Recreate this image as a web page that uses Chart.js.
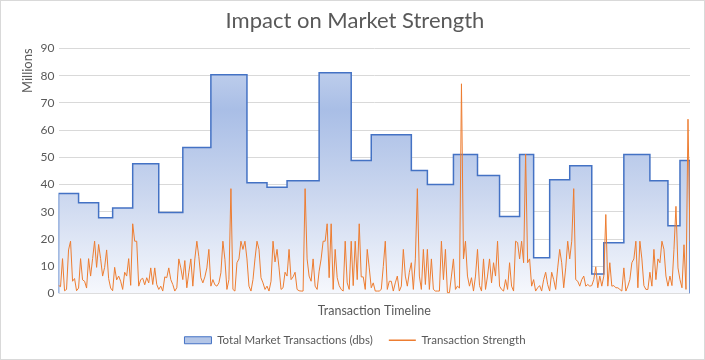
<!DOCTYPE html>
<html>
<head>
<meta charset="utf-8">
<script src="https://cdn.jsdelivr.net/npm/chart.js"></script>
<style>
  body { margin: 0; background: #fff; }
  #wrap { width: 705px; height: 360px; }
</style>
</head>
<body>
<div id="wrap"><canvas id="chart" width="705" height="360"></canvas></div>
<script>
// Step series: slot where each level starts, and its value (millions)
const stepStarts = [0, 10, 20, 27, 37, 50, 62, 76, 94, 104, 114, 130, 146, 156, 176, 184, 197,
  209, 220, 230, 237, 245, 255, 266, 272, 282, 295, 304, 310];
const stepValues = [36.7, 33.3, 27.8, 31.4, 47.6, 29.7, 53.6, 80.3, 40.7, 39.0, 41.4, 81.1, 48.8,
  58.3, 45.2, 40.0, 51.0, 43.3, 28.3, 51.0, 13.1, 41.8, 46.9, 7.2, 18.6, 51.0, 41.4, 24.9, 48.8];
const lastSlot = 315;

// Transaction strength, one value per timeline slot (millions)
const strength = [
  3, 2.5, 12.8, 1, 1.5, 16, 19.2, 4.5, 5.5, 1, 2, 12.8, 5, 4.5, 2, 12.8, 6.4, 12.8, 19.2, 9.6,
  18, 12.8, 6.4, 9.6, 16, 5.5, 2, 1, 9.6, 5, 6.4, 4.5, 1.5, 7.8, 6.4, 12.8, 3, 25.6, 19.2,
  19.2, 2.7, 5.1, 5.6, 3.2, 5.8, 3.9, 9.4, 3.3, 9.4, 3.3, 1.5, 2.7, 0.9, 6.1, 5.8, 9.4, 5.1, 3.3, 0.9,
  2.1, 12.7, 9.4, 5.1, 12.1, 2.1, 7.8, 12.7, 2.7, 12.7, 19.2, 13.5, 5.8, 3.9, 6.1, 9.4, 16.2, 2.7, 5.1, 3.2,
  2.7, 3.9, 7.6, 19.2, 12.5, 1.5, 5.1, 38.5, 1.5, 0.9, 11.3, 12.7, 19.2, 16.2, 19.2, 12.7, 2.7, 0.9, 5.1, 12.7,
  19.2, 16.2, 5.8, 3.9, 1.5, 2.7, 0.9, 4.5, 19.2, 11.6, 16.2, 9.4, 1.5, 2.1, 7.8, 6.4, 16.2, 5.1, 6.1, 7.8,
  1.5, 1.0, 0.9, 0.9, 38.5, 12.7, 6.4, 4.5, 12.7, 2.7, 1.5, 8.2, 12.7, 19.2, 19.2, 25.6, 5.8, 25.6, 1.5, 16.2,
  5.8, 2.9, 1.5, 0.9, 19.2, 3.9, 1.5, 19.2, 2.9, 19.2, 5.1, 25.6, 6.1, 6.1, 1.5, 16.2, 9.4, 2.1, 3.9, 0.9,
  0.9, 0.9, 1.5, 9.9, 19.2, 1.5, 4.5, 4.5, 0.9, 3.9, 6.4, 0.9, 2.7, 16.2, 6.4, 2.7, 7.8, 11.3, 1.5, 12.7,
  38.5, 6.4, 1.5, 16.2, 3.3, 16.2, 1.5, 12.7, 1.5, 0.9, 0.9, 0.9, 19.2, 5.1, 16.2, 0.3, 0.3, 6.4, 12.7, 1.5,
  2.7, 2.0, 77, 12.7, 19.2, 6.4, 2.7, 5.8, 0.9, 6.4, 16.2, 2.9, 0.9, 12.7, 1.5, 6.4, 12.7, 3.9, 11.3, 6.4,
  19.2, 2.7, 1.5, 0.9, 5.1, 1.5, 11.3, 2.7, 0.9, 19.2, 18.7, 12.7, 19.2, 11.3, 51.2, 11.3, 12.7, 2.7, 5.1, 0.9,
  2.1, 2.9, 0.9, 5.1, 7.8, 3.3, 0.9, 7.8, 5.1, 1.5, 9.4, 16.2, 11.3, 2.1, 9.4, 19.2, 12.7, 19.2, 38.5, 5.1,
  4.5, 2.7, 5.1, 6.4, 2.7, 3.3, 2.7, 2.9, 5.1, 9.8, 2.1, 6.4, 2.7, 6.4, 29, 2.7, 11.3, 2.7, 2.9, 2.1,
  2.1, 1.5, 0.9, 9.4, 0.9, 2.7, 5.1, 11.3, 12.7, 19.2, 2.1, 19.2, 12.7, 2.9, 1.5, 1.5, 7.8, 2.7, 16.2, 5.1,
  12.7, 11.3, 19.2, 16.2, 6.4, 2.7, 6.4, 2.9, 16.2, 32, 9.4, 5.1, 2.1, 17.9, 1.5, 64, 19.2
];

const yTicks = [0, 10, 20, 30, 40, 50, 60, 70, 80, 90];

// build the step outline, closed down to the axis at both ends
const stepPoints = [{ x: 0, y: 0 }];
stepStarts.forEach((s, i) => stepPoints.push({ x: s, y: stepValues[i] }));
stepPoints.push({ x: lastSlot, y: stepValues[stepValues.length - 1] });
stepPoints.push({ x: lastSlot, y: 0 });

const strengthPoints = strength.map((v, i) => ({ x: i, y: v }));

const textColor = '#595959';
const fontFamily = 'Lato, "Open Sans", sans-serif';

function areaGradient(context) {
    const area = context.chart.chartArea;
    if (!area) return '#b4c7e7';
    const g = context.chart.ctx.createLinearGradient(0, area.top, 0, area.bottom);
    g.addColorStop(0, '#cad7ef');
    g.addColorStop(0.25, '#a9bee6');
    g.addColorStop(0.6, '#cbd7ef');
    g.addColorStop(1, '#f6f8fd');
    return g;
}

const frame = {
    id: 'frame',
    beforeDraw(chart) {
        const ctx = chart.ctx;
        ctx.save();
        ctx.fillStyle = '#fff';
        ctx.fillRect(0, 0, chart.width, chart.height);
        ctx.strokeStyle = '#d9d9d9';
        ctx.lineWidth = 1;
        ctx.strokeRect(0.5, 0.5, chart.width - 1, chart.height - 1);
        ctx.restore();
    }
};

new Chart(document.getElementById('chart').getContext('2d'), {
    type: 'line',
    data: {
        datasets: [
            {
                label: 'Total Market Transactions (dbs)',
                data: stepPoints,
                stepped: true,
                borderColor: '#4472c4',
                borderWidth: 1.5,
                backgroundColor: areaGradient,
                fill: 'origin',
                pointRadius: 0,
                order: 2
            },
            {
                label: 'Transaction Strength',
                data: strengthPoints,
                borderColor: '#ed7d31',
                borderWidth: 1,
                fill: false,
                pointRadius: 0,
                tension: 0,
                order: 1
            }
        ]
    },
    options: {
        responsive: false,
        animation: false,
        layout: { padding: { left: 20, right: 15, top: 0, bottom: 4 } },
        plugins: {
            tooltip: { enabled: false },
            title: {
                display: true,
                text: 'Impact on Market Strength',
                color: textColor,
                font: { family: fontFamily, size: 22, weight: 'normal' },
                padding: { top: 8, bottom: 14 }
            },
            legend: {
                position: 'bottom',
                labels: {
                    color: textColor,
                    font: { family: fontFamily, size: 11.5 },
                    usePointStyle: true,
                    pointStyleWidth: 27,
                    boxHeight: 7,
                    padding: 16,
                    generateLabels: () => [
                        { text: 'Total Market Transactions (dbs)', fillStyle: '#b4c6e7', strokeStyle: '#4472c4',
                          lineWidth: 1, pointStyle: 'rect', fontColor: textColor, datasetIndex: 0 },
                        { text: 'Transaction Strength', fillStyle: '#ed7d31', strokeStyle: '#ed7d31',
                          lineWidth: 1.5, pointStyle: 'line', fontColor: textColor, datasetIndex: 1 }
                    ]
                }
            }
        },
        scales: {
            x: {
                type: 'linear',
                min: 0,
                max: lastSlot,
                grid: { display: false },
                border: { display: false },
                ticks: { display: false },
                title: {
                    display: true,
                    text: 'Transaction Timeline',
                    color: textColor,
                    font: { family: fontFamily, size: 12.5 },
                    padding: { top: 2, bottom: 0 }
                }
            },
            y: {
                min: 0,
                max: 90,
                afterBuildTicks: (scale) => { scale.ticks = yTicks.map(v => ({ value: v })); },
                grid: { color: '#d9d9d9', drawTicks: false },
                border: { display: false },
                ticks: {
                    color: textColor,
                    font: { family: fontFamily, size: 12 },
                    padding: 4
                },
                title: {
                    display: true,
                    text: 'Millions',
                    align: 'end',
                    color: textColor,
                    font: { family: fontFamily, size: 13 },
                    padding: { top: 0, bottom: 1 }
                }
            }
        }
    },
    plugins: [frame]
});
</script>
</body>
</html>
